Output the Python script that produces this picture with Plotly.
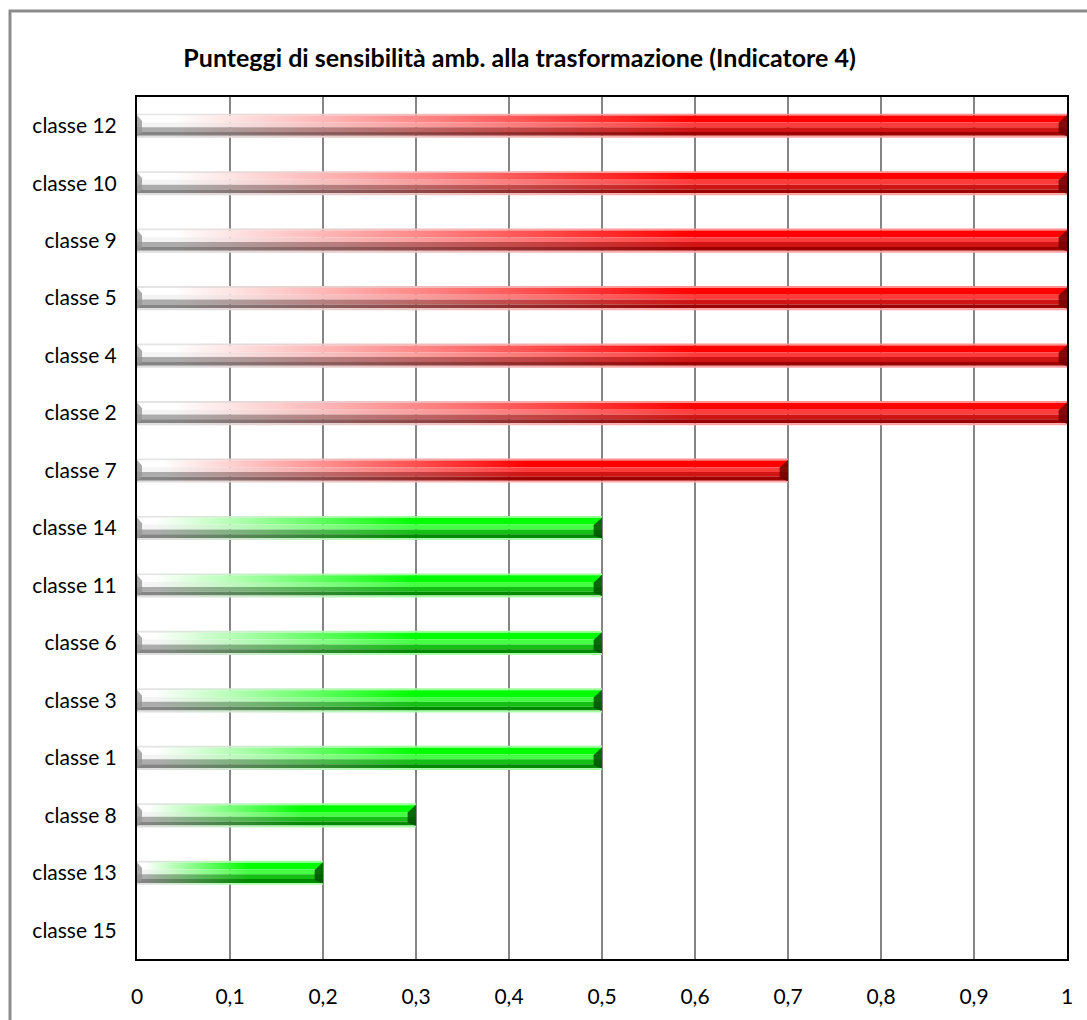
import plotly.graph_objects as go

# Categories from top to bottom, and the score of each one
categories = ["classe 12", "classe 10", "classe 9", "classe 5", "classe 4", "classe 2",
              "classe 7", "classe 14", "classe 11", "classe 6", "classe 3", "classe 1",
              "classe 8", "classe 13", "classe 15"]
scores = [1, 1, 1, 1, 1, 1, 0.7, 0.5, 0.5, 0.5, 0.5, 0.5, 0.3, 0.2, 0]
x_ticks = [0, 0.1, 0.2, 0.3, 0.4, 0.5, 0.6, 0.7, 0.8, 0.9, 1]

TITLE = "Punteggi di sensibilità amb. alla trasformazione (Indicatore 4)"
FONT = "Lato, 'Open Sans', sans-serif"

HALF = 0.21       # half bar thickness in category units
CAP = 0.009       # bevel width at the bar ends in x units

# Horizontal stripes of a bevelled cylinder bar: (top frac, bottom frac, left colour, right colour)
RED_STRIPES = [
    (0.00, 0.08, "#e4e4e4", "#ff9090"),
    (0.08, 0.36, "#ffffff", "#ff0000"),
    (0.36, 0.56, "#f4f4f4", "#ff3c3c"),
    (0.56, 0.76, "#acacac", "#d01414"),
    (0.76, 0.92, "#858585", "#9c0000"),
    (0.92, 1.00, "#dedede", "#ffa4a4"),
]
GREEN_STRIPES = [
    (0.00, 0.08, "#e4e4e4", "#9cff9c"),
    (0.08, 0.36, "#ffffff", "#00ff00"),
    (0.36, 0.56, "#f4f4f4", "#44ff44"),
    (0.56, 0.76, "#acacac", "#14c014"),
    (0.76, 0.92, "#858585", "#008a00"),
    (0.92, 1.00, "#dedede", "#a8ffa8"),
]

fig = go.Figure()

for i, (cat, v) in enumerate(zip(categories, scores)):
    if v <= 0:
        continue
    stripes = RED_STRIPES if v > 0.5 else GREEN_STRIPES
    cap_col = "rgba(110,0,0,0.85)" if v > 0.5 else "rgba(0,80,0,0.85)"
    top = i - HALF
    h = 2 * HALF
    for f0, f1, lc, rc in stripes:
        y0 = top + f0 * h
        y1 = top + f1 * h
        fig.add_trace(go.Scatter(
            x=[0, v, v, 0, 0], y=[y0, y0, y1, y1, y0],
            mode="lines", fill="toself", line=dict(width=0),
            fillgradient=dict(type="horizontal",
                              colorscale=[[0, lc], [0.04, lc], [0.6, rc], [1, rc]]),
            hoverinfo="skip", showlegend=False))
    # right bevel
    fig.add_trace(go.Scatter(
        x=[v, v - CAP, v - CAP, v, v],
        y=[top + 0.06 * h, top + 0.38 * h, top + 0.8 * h, top + 0.94 * h, top + 0.06 * h],
        mode="lines", fill="toself", line=dict(width=0), fillcolor=cap_col,
        hoverinfo="skip", showlegend=False))
    # left bevel
    fig.add_trace(go.Scatter(
        x=[0, CAP * 0.6, CAP * 0.6, 0, 0],
        y=[top + 0.06 * h, top + 0.3 * h, top + 0.78 * h, top + 0.94 * h, top + 0.06 * h],
        mode="lines", fill="toself", line=dict(width=0), fillcolor="rgba(150,150,150,0.8)",
        hoverinfo="skip", showlegend=False))

fig.update_layout(
    width=1087, height=1020,
    margin=dict(l=137, r=20, t=97, b=52),
    paper_bgcolor="white", plot_bgcolor="white",
    separators=", ",
    font=dict(family=FONT, size=21, color="black"),
    title=dict(text="<b>" + TITLE + "</b>", x=0.478, xanchor="center",
               y=1 - 58 / 1020, yanchor="middle",
               font=dict(family=FONT, size=25, color="black")),
    xaxis=dict(range=[0, 1], tickvals=x_ticks, tickformat=".1~f",
               showgrid=True, gridcolor="#858585", gridwidth=2,
               zeroline=False, showline=True, linecolor="black", linewidth=2,
               mirror=True, ticks="", ticklabelstandoff=18),
    yaxis=dict(range=[len(categories) - 0.5, -0.5], tickvals=list(range(len(categories))),
               ticktext=categories, showgrid=False, zeroline=False,
               showline=True, linecolor="black", linewidth=2, mirror=True,
               ticks="", ticklabelstandoff=14),
    shapes=[dict(type="rect", xref="paper", yref="paper",
                 x0=-127 / 930, x1=1.2, y0=-0.2, y1=1 + 87 / 871,
                 line=dict(color="#8c8c8c", width=3), fillcolor="rgba(0,0,0,0)",
                 layer="below")],
)

fig.write_html("out.html")
